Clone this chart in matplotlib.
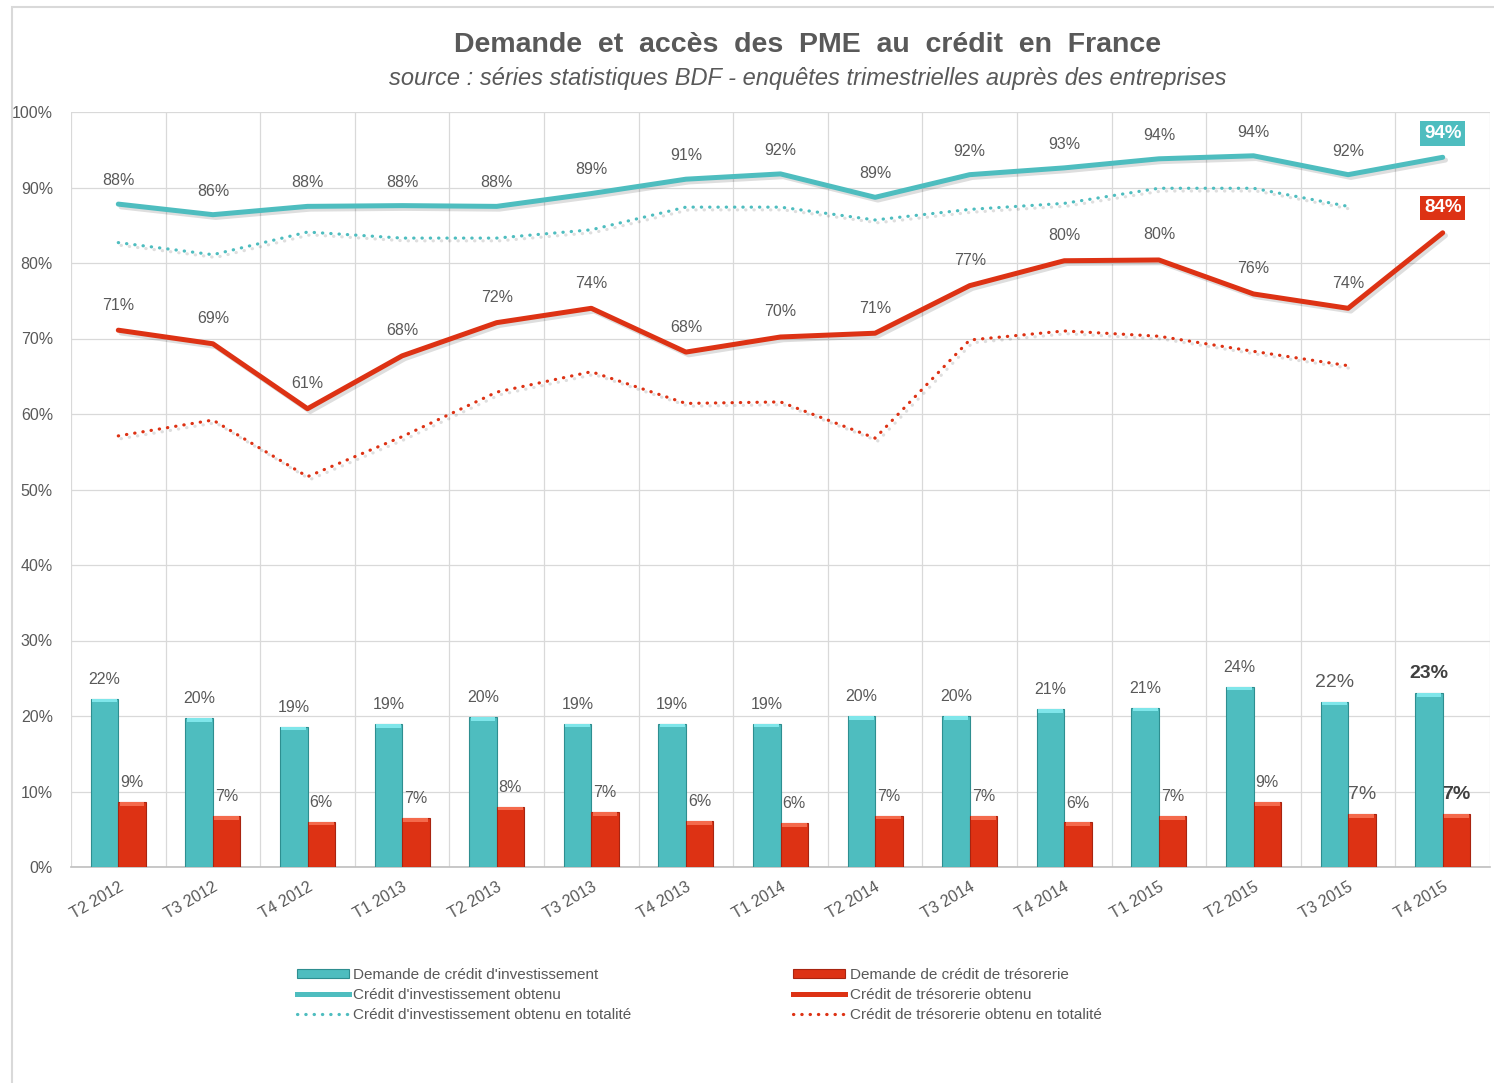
import matplotlib
matplotlib.use("Agg")
import matplotlib.pyplot as plt
import matplotlib.patheffects as pe
from matplotlib.patches import Rectangle
from matplotlib.lines import Line2D
import numpy as np

plt.rcParams['font.family'] = ['Liberation Sans', 'DejaVu Sans']

quarters = ["T2 2012", "T3 2012", "T4 2012", "T1 2013", "T2 2013", "T3 2013", "T4 2013",
            "T1 2014", "T2 2014", "T3 2014", "T4 2014", "T1 2015", "T2 2015", "T3 2015", "T4 2015"]

# Demand (bars)
demande_invest = [22.3, 19.7, 18.6, 18.9, 19.9, 19.0, 19.0, 19.0, 20.0, 20.0, 20.9, 21.1, 23.9, 21.9, 23.0]
demande_treso = [8.6, 6.7, 6.0, 6.5, 8.0, 7.3, 6.1, 5.8, 6.8, 6.7, 5.9, 6.7, 8.6, 7.0, 7.0]
labels_demande_invest = ["22%", "20%", "19%", "19%", "20%", "19%", "19%", "19%", "20%", "20%", "21%", "21%", "24%", "22%", "23%"]
labels_demande_treso = ["9%", "7%", "6%", "7%", "8%", "7%", "6%", "6%", "7%", "7%", "6%", "7%", "9%", "7%", "7%"]

# Obtained (lines)
invest_obtenu = [87.8, 86.4, 87.5, 87.6, 87.5, 89.2, 91.1, 91.8, 88.7, 91.7, 92.6, 93.8, 94.2, 91.7, 94.0]
treso_obtenu = [71.1, 69.3, 60.7, 67.7, 72.1, 74.0, 68.2, 70.2, 70.7, 77.0, 80.3, 80.4, 75.9, 74.0, 84.0]
labels_invest_obtenu = ["88%", "86%", "88%", "88%", "88%", "89%", "91%", "92%", "89%", "92%", "93%", "94%", "94%", "92%", "94%"]
labels_treso_obtenu = ["71%", "69%", "61%", "68%", "72%", "74%", "68%", "70%", "71%", "77%", "80%", "80%", "76%", "74%", "84%"]

# Obtained in full (dotted lines), no value for T4 2015
invest_totalite = [82.7, 81.1, 84.1, 83.3, 83.3, 84.4, 87.4, 87.4, 85.7, 87.1, 87.9, 89.9, 89.9, 87.5, np.nan]
treso_totalite = [57.1, 59.2, 51.7, 57.0, 62.9, 65.6, 61.4, 61.6, 56.8, 69.8, 71.0, 70.3, 68.3, 66.4, np.nan]

CYAN = "#4EBDBF"
CYAN_DARK = "#2E8E90"
CYAN_LIGHT = "#7FE6EA"
RED = "#DD3214"
RED_DARK = "#A82410"
RED_LIGHT = "#F46A4C"
GRAY = "#595959"
GRID = "#D9D9D9"

fig = plt.figure(figsize=(14.94, 10.83), dpi=100)
fig.patch.set_facecolor("white")
ax = fig.add_axes([71/1494, 1-867/1083, (1490-71)/1494, (867-112)/1083])

x = np.arange(len(quarters))
w = 0.29

shadow = [pe.SimpleLineShadow(offset=(2, -2), alpha=0.13), pe.Normal()]

# Bars
ax.bar(x - w/2, demande_invest, w, color=CYAN, edgecolor=CYAN_DARK, linewidth=0.8, zorder=3)
ax.bar(x + w/2, demande_treso, w, color=RED, edgecolor=RED_DARK, linewidth=0.8, zorder=3)
# bevel highlight on top of bars
cap = 0.5
ax.bar(x - w/2, [cap]*len(x), w*0.9, bottom=np.array(demande_invest) - cap, color=CYAN_LIGHT, linewidth=0, zorder=4)
ax.bar(x + w/2, [cap]*len(x), w*0.9, bottom=np.array(demande_treso) - cap, color=RED_LIGHT, linewidth=0, zorder=4)

# Lines
ax.plot(x, invest_obtenu, color=CYAN, lw=3.6, solid_capstyle="round", solid_joinstyle="round",
        path_effects=shadow, zorder=5)
ax.plot(x, treso_obtenu, color=RED, lw=3.6, solid_capstyle="round", solid_joinstyle="round",
        path_effects=shadow, zorder=5)
ax.plot(x, invest_totalite, color=CYAN, lw=2.3, linestyle=(0, (0.1, 2.5)), dash_capstyle="round",
        path_effects=shadow, zorder=5)
ax.plot(x, treso_totalite, color=RED, lw=2.3, linestyle=(0, (0.1, 2.5)), dash_capstyle="round",
        path_effects=shadow, zorder=5)

LBL = 11.5

# Line labels
n = len(x)
for i in range(n):
    if i == n - 1:
        ax.annotate(labels_invest_obtenu[i], (x[i], invest_obtenu[i]), xytext=(0, 17), textcoords="offset points",
                    ha="center", va="center", fontsize=13.5, color="white", fontweight="bold",
                    bbox=dict(boxstyle="square,pad=0.2", fc=CYAN, ec="none"), zorder=7)
        ax.annotate(labels_treso_obtenu[i], (x[i], treso_obtenu[i]), xytext=(0, 18), textcoords="offset points",
                    ha="center", va="center", fontsize=13.5, color="white", fontweight="bold",
                    bbox=dict(boxstyle="square,pad=0.2", fc=RED, ec="none"), zorder=7)
    else:
        ax.annotate(labels_invest_obtenu[i], (x[i], invest_obtenu[i]), xytext=(0, 17), textcoords="offset points",
                    ha="center", va="center", fontsize=LBL, color=GRAY, zorder=7)
        ax.annotate(labels_treso_obtenu[i], (x[i], treso_obtenu[i]), xytext=(0, 18), textcoords="offset points",
                    ha="center", va="center", fontsize=LBL, color=GRAY, zorder=7)

# Bar labels
for i in range(n):
    if i == n - 1:
        kw = dict(fontsize=14, fontweight="bold", color="#404040")
    elif i == n - 2:
        kw = dict(fontsize=14, color=GRAY)
    else:
        kw = dict(fontsize=LBL, color=GRAY)
    ax.annotate(labels_demande_invest[i], (x[i] - w/2, demande_invest[i]), xytext=(0, 14),
                textcoords="offset points", ha="center", va="center", zorder=7, **kw)
    ax.annotate(labels_demande_treso[i], (x[i] + w/2, demande_treso[i]), xytext=(0, 14),
                textcoords="offset points", ha="center", va="center", zorder=7, **kw)

# Axes formatting
ax.set_xlim(-0.5, n - 0.5)
ax.set_ylim(0, 100)
ax.set_yticks(np.arange(0, 101, 10))
ax.set_yticklabels([f"{v}%" for v in range(0, 101, 10)], fontsize=LBL, color=GRAY)
ax.set_xticks(x)
ax.set_xticklabels(quarters, rotation=30, ha="right", rotation_mode="anchor", fontsize=LBL, color=GRAY)
ax.set_xticks(np.arange(-0.5, n, 1), minor=True)
ax.tick_params(axis="both", which="both", length=0)
ax.tick_params(axis="y", pad=13)
ax.tick_params(axis="x", pad=9)
ax.grid(axis="y", which="major", color=GRID, lw=0.9, zorder=0)
ax.grid(axis="x", which="minor", color=GRID, lw=0.9, zorder=0)
ax.grid(axis="x", which="major", visible=False)
ax.set_axisbelow(True)
for s in ["top", "right", "left"]:
    ax.spines[s].set_visible(False)
ax.spines["bottom"].set_color("#BFBFBF")
ax.spines["bottom"].set_linewidth(1.2)

# Titles
fig.text(808/1494, 1-45/1083, "Demande  et  accès  des  PME  au  crédit  en  France", ha="center", va="center",
         fontsize=20.5, fontweight="bold", color="#595959")
fig.text(808/1494, 1-78/1083, "source : séries statistiques BDF - enquêtes trimestrielles auprès des entreprises",
         ha="center", va="center", fontsize=17, style="italic", color="#595959")

# Figure border
fig.patches.append(Rectangle((12/1494, -0.05), 1.1, 1-7/1083 + 0.05, transform=fig.transFigure,
                             fill=False, edgecolor="#D9D9D9", lw=1.5))

# Legend
handles = [
    Rectangle((0, 0), 1, 1, fc=CYAN, ec=CYAN_DARK, lw=0.8),
    Line2D([], [], color=CYAN, lw=3.6),
    Line2D([], [], color=CYAN, lw=2.3, linestyle=(0, (0.1, 2.5)), dash_capstyle="round"),
    Rectangle((0, 0), 1, 1, fc=RED, ec=RED_DARK, lw=0.8),
    Line2D([], [], color=RED, lw=3.6),
    Line2D([], [], color=RED, lw=2.3, linestyle=(0, (0.1, 2.5)), dash_capstyle="round"),
]
labels = [
    "Demande de crédit d'investissement",
    "Crédit d'investissement obtenu",
    "Crédit d'investissement obtenu en totalité",
    "Demande de crédit de trésorerie",
    "Crédit de trésorerie obtenu",
    "Crédit de trésorerie obtenu en totalité",
]
fig.legend(handles, labels, ncol=2, loc="center left", bbox_to_anchor=(283/1494, 1-995/1083),
           frameon=False, fontsize=11, handlelength=3.4, handleheight=0.5, handletextpad=0.3,
           columnspacing=10.6, labelspacing=0.38, labelcolor=GRAY)

fig.savefig("out.png", dpi=100, facecolor="white")
